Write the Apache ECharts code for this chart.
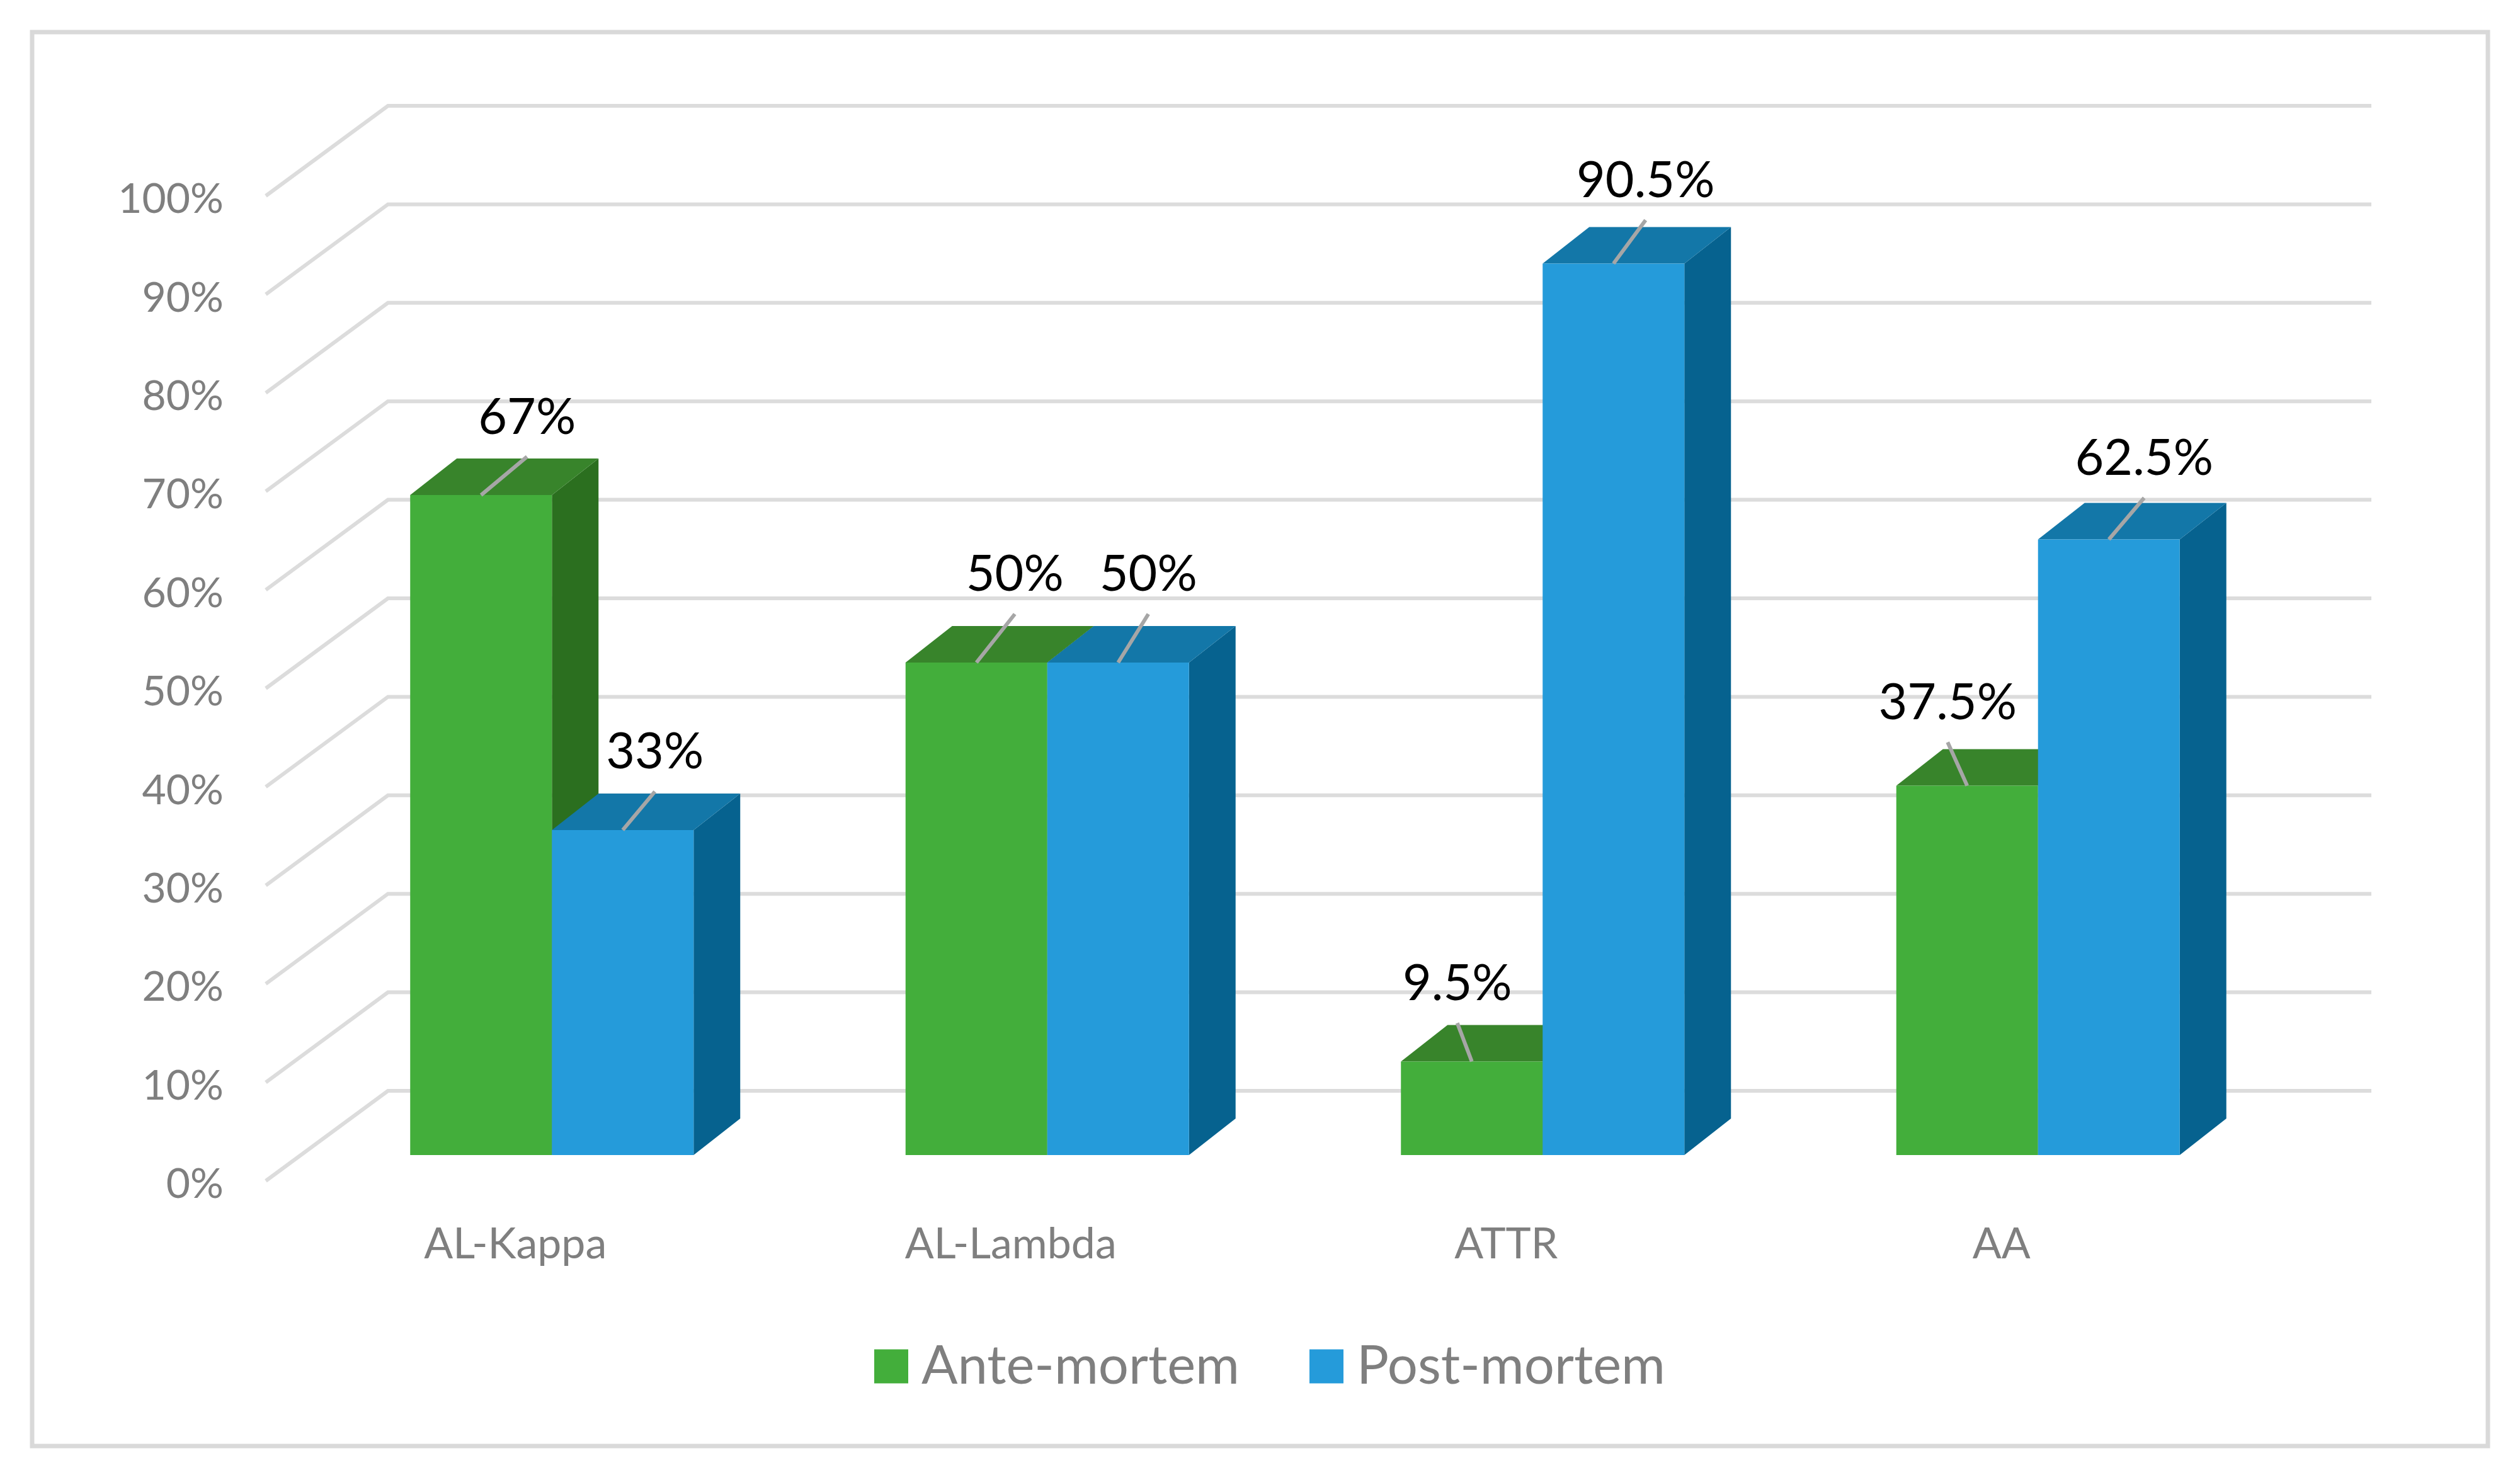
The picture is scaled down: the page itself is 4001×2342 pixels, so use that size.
<!DOCTYPE html>
<html><head><meta charset="utf-8">
<style>html,body{margin:0;padding:0;background:#fff}#c{width:4001px;height:2342px}</style>
<script src="https://cdn.jsdelivr.net/npm/echarts@6/dist/echarts.min.js"></script>
</head><body><div id="c"></div>
<script>
const categories = ['AL-Kappa', 'AL-Lambda', 'ATTR', 'AA'];
const anteMortem = [67, 50, 9.5, 37.5];
const postMortem = [33, 50, 90.5, 62.5];
const gridTicks = [0, 10, 20, 30, 40, 50, 60, 70, 80, 90, 100];

// layout of the pseudo-3D drawing, in pixels relative to the scales
const FONT = 'Lato';
const wallDepth = [194, -143];
const wallRunOver = 3;
const barOffset = [61, -41];
const barDepth = [74, -58];
const barShare = 225 / 786.5;
const anteLeaders = [[73, -61], [61, -77], [-23, -61], [-31, -69]];
const postLeaders = [[51, -61], [48, -77], [51, -69], [56, -66]];

function wallItem(params, api) {
  const cs = params.coordSys;
  const p = api.coord([0, api.value(1)]);
  const y = p[1];
  return {
    type: 'polyline',
    shape: { points: [[cs.x, y], [cs.x + wallDepth[0], y + wallDepth[1]], [cs.x + cs.width + wallDepth[0] + wallRunOver, y + wallDepth[1]]] },
    style: { fill: null, stroke: '#dcdcdc', lineWidth: 6, lineJoin: 'miter' }
  };
}

function barRenderer(side, colors, leaders) {
  return function (params, api) {
    const i = api.value(0), v = api.value(1);
    const band = api.size([1, 0])[0];
    const w = band * barShare;
    const top = api.coord([i, v]);
    const base = api.coord([i, 0]);
    const x0 = top[0] + barOffset[0] + (side < 0 ? -w : 0);
    const x1 = x0 + w;
    const yt = top[1] + barOffset[1];
    const yb = base[1] + barOffset[1];
    const dx = barDepth[0], dy = barDepth[1];
    const cx = (x0 + x1) / 2;
    const lead = leaders[i];
    const lx = cx + lead[0], ly = yt + lead[1];
    return {
      type: 'group',
      children: [
        { type: 'polygon', shape: { points: [[x1, yt], [x1 + dx, yt + dy], [x1 + dx, yb + dy], [x1, yb]] }, style: { fill: colors.side } },
        { type: 'polygon', shape: { points: [[x0, yt], [x0 + dx, yt + dy], [x1 + dx, yt + dy], [x1, yt]] }, style: { fill: colors.top } },
        { type: 'rect', shape: { x: x0, y: yt, width: w, height: yb - yt }, style: { fill: colors.front } },
        { type: 'line', z2: 20, shape: { x1: cx, y1: yt, x2: lx, y2: ly }, style: { stroke: '#a6a6a6', lineWidth: 6 } },
        { type: 'text', z2: 21, style: { x: lx, y: ly - 62, text: v + '%', fill: '#000', fontFamily: FONT, fontSize: 79, align: 'center', verticalAlign: 'middle' } }
      ]
    };
  };
}

const chart = echarts.init(document.getElementById('c'), null, { renderer: 'canvas' });
chart.setOption({
  animation: false,
  backgroundColor: '#fff',
  graphic: [{ type: 'rect', z: -10, shape: { x: 51, y: 51, width: 3899, height: 2245 }, style: { fill: '#fff', stroke: '#d9d9d9', lineWidth: 7 } }],
  grid: { left: 422, top: 311, width: 3146, height: 1564 },
  legend: {
    data: ['Ante-mortem', 'Post-mortem'], left: 1383, top: 2122, itemWidth: 54, itemHeight: 54, itemGap: 111, icon: 'rect',
    textStyle: { fontFamily: FONT, fontSize: 85, color: '#7f7f7f', padding: [0, 0, 0, 16] }
  },
  xAxis: {
    type: 'category', data: categories,
    axisLine: { show: false }, axisTick: { show: false }, splitLine: { show: false },
    axisLabel: { fontFamily: FONT, fontSize: 68, color: '#7f7f7f', margin: 67, padding: [0, 0, 0, 6] }
  },
  yAxis: {
    type: 'value', min: 0, max: 100, interval: 10,
    axisLine: { show: false }, axisTick: { show: false }, splitLine: { show: false },
    axisLabel: { fontFamily: FONT, fontSize: 66, color: '#7f7f7f', margin: 67, verticalAlign: 'top', lineHeight: 12, formatter: '{value}%' }
  },
  series: [
    { type: 'custom', name: 'walls', silent: true, z: 1, renderItem: wallItem, data: gridTicks.map(t => [0, t]) },
    { type: 'custom', name: 'Ante-mortem', z: 2, itemStyle: { color: '#43AE3B' },
      renderItem: barRenderer(-1, { front: '#43AE3B', top: '#38842B', side: '#2B6F1F' }, anteLeaders),
      data: anteMortem.map((v, i) => [i, v]) },
    { type: 'custom', name: 'Post-mortem', z: 3, itemStyle: { color: '#259BDA' },
      renderItem: barRenderer(1, { front: '#259BDA', top: '#1377A8', side: '#06628F' }, postLeaders),
      data: postMortem.map((v, i) => [i, v]) }
  ]
});
</script></body></html>
